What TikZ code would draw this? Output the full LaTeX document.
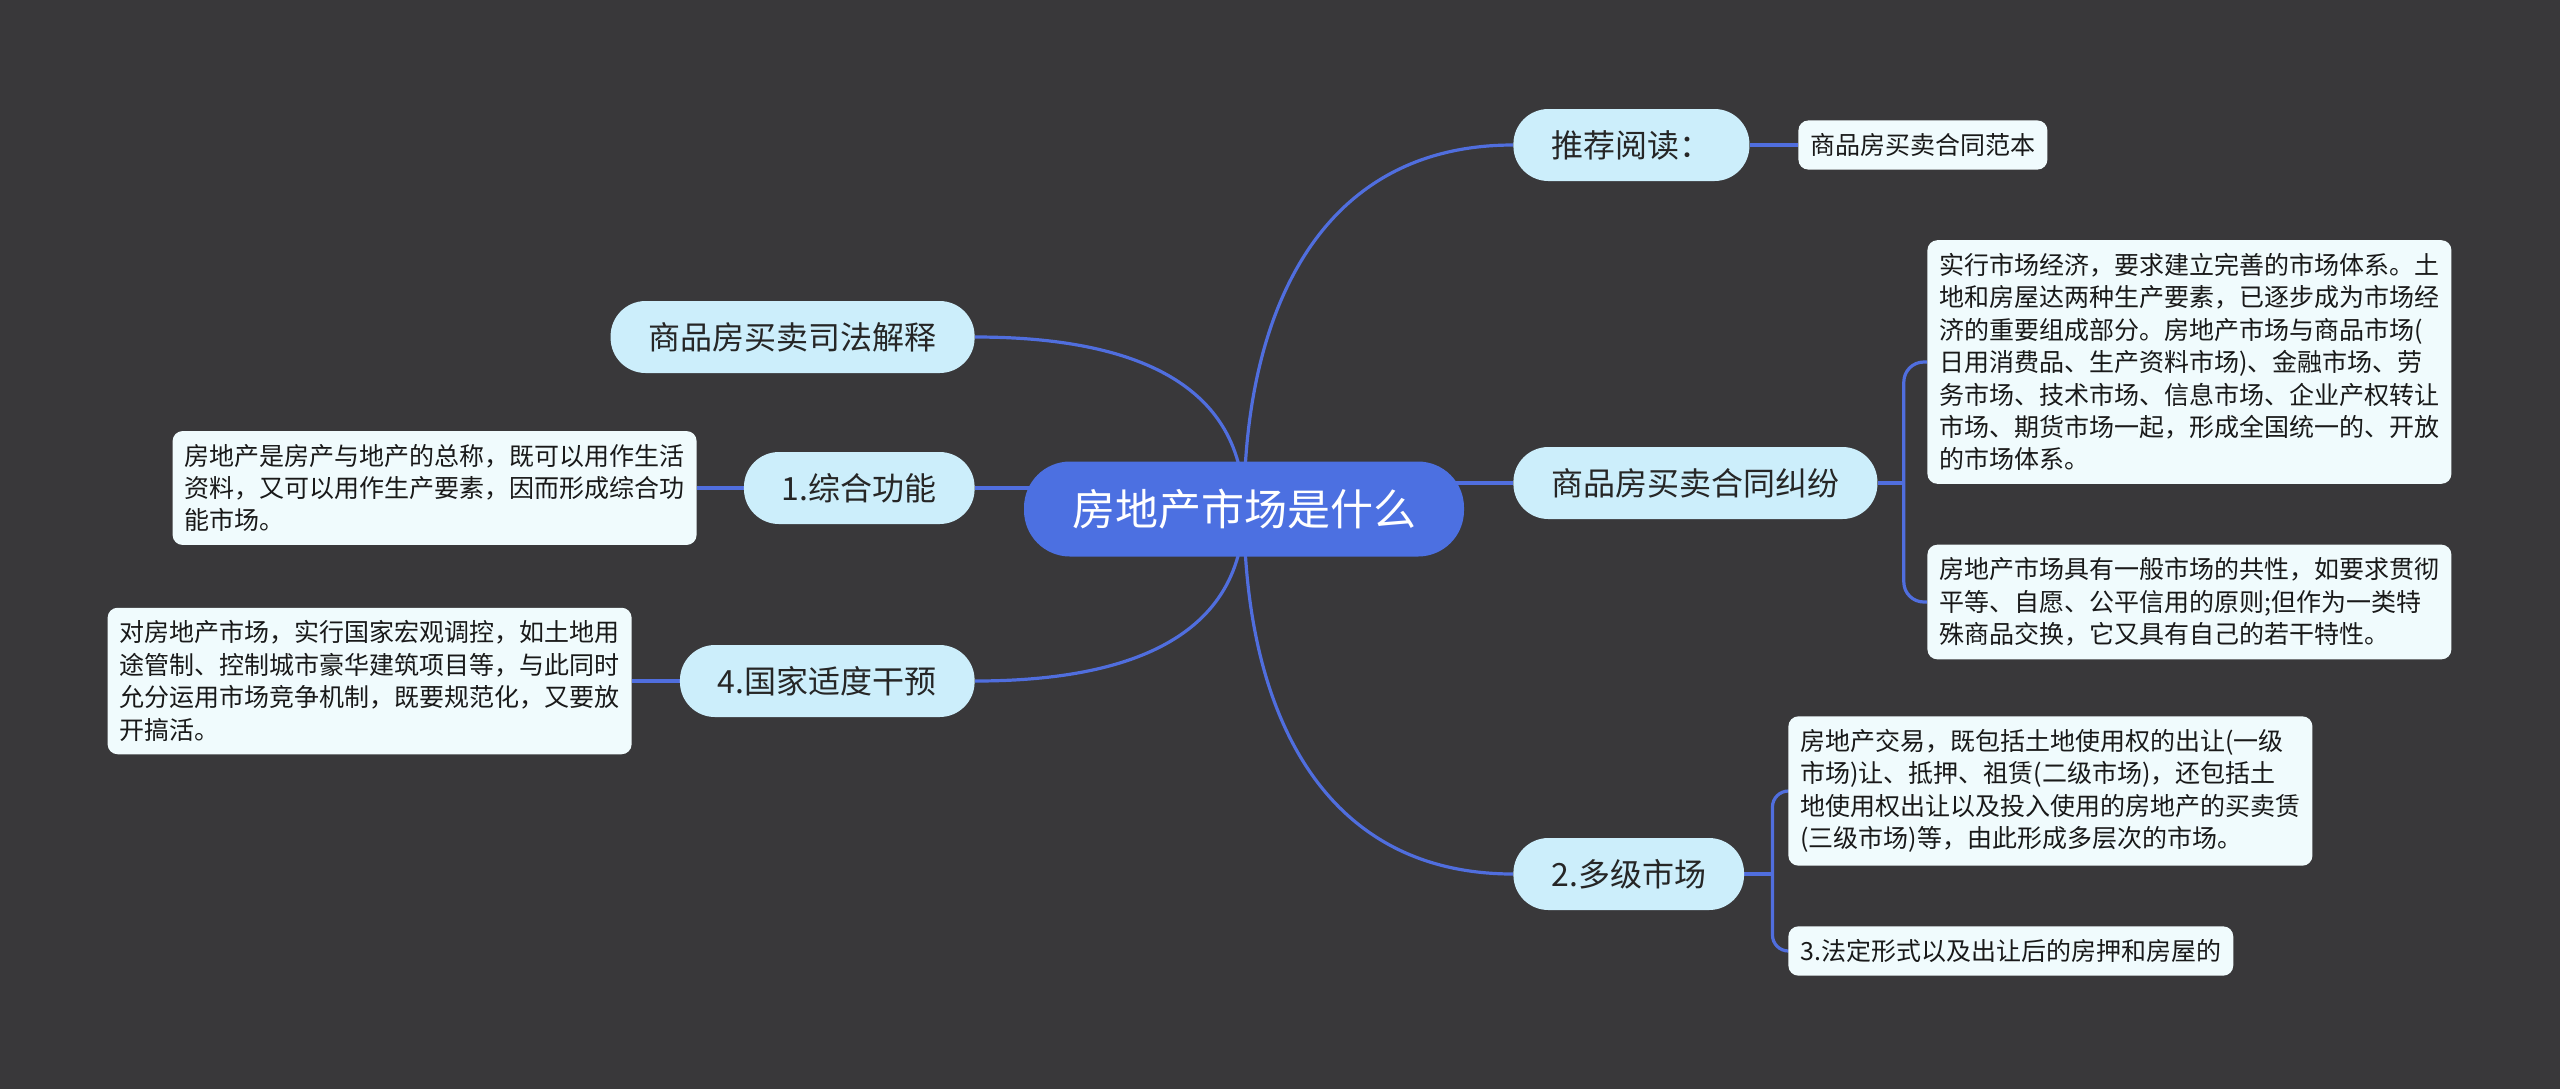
\documentclass[tikz,border=0pt]{standalone}
\usepackage{fontspec}
\setmainfont{Noto Sans CJK SC}
\usetikzlibrary{backgrounds}
\definecolor{bgcol}{RGB}{57,56,58}
\definecolor{rootblue}{RGB}{76,112,225}
\definecolor{linkblue}{RGB}{80,110,222}
\definecolor{topiccyan}{RGB}{204,238,251}
\definecolor{leafwhite}{RGB}{240,251,253}

\begin{document}
\begin{tikzpicture}[x=0.5pt,y=-0.5pt,
  root/.style={fill=rootblue,text=white,rounded corners=23pt,inner xsep=24pt,minimum height=47.5pt,font=\fontsize{21.5}{26}\selectfont},
  topic/.style={fill=topiccyan,text=black!85,rounded corners=17.5pt,inner xsep=19pt,minimum height=36pt,font=\fontsize{16}{19}\selectfont},
  leaf/.style={fill=leafwhite,text=black!90,rounded corners=5pt,inner xsep=6pt,inner ysep=6.5pt,align=left,font=\fontsize{12.5}{16.2}\selectfont},
  link/.style={draw=linkblue,line width=1.6pt}]
\useasboundingbox (0,0) rectangle (2560,1089);
\node[root] (root) at (1244,509) {房地产市场是什么};
\node[topic,anchor=west] (tjyd) at (1513,145) {推荐阅读：};
\node[leaf,anchor=west] (fbhe) at (1798,145) {商品房买卖合同范本};
\node[topic,anchor=west] (jf) at (1513,483) {商品房买卖合同纠纷};
\node[leaf,anchor=west] (jfa) at (1927,362) {实行市场经济，要求建立完善的市场体系。土\\地和房屋达两种生产要素，已逐步成为市场经\\济的重要组成部分。房地产市场与商品市场(\\日用消费品、生产资料市场)、金融市场、劳\\务市场、技术市场、信息市场、企业产权转让\\市场、期货市场一起，形成全国统一的、开放\\的市场体系。};
\node[leaf,anchor=west] (jfb) at (1927,602) {房地产市场具有一般市场的共性，如要求贯彻\\平等、自愿、公平信用的原则;但作为一类特\\殊商品交换，它又具有自己的若干特性。};
\node[topic,anchor=west] (djsc) at (1513,874) {2.多级市场};
\node[leaf,anchor=west] (dja) at (1788,791) {房地产交易，既包括土地使用权的出让(一级\\市场)让、抵押、祖赁(二级市场)，还包括土\\地使用权出让以及投入使用的房地产的买卖赁\\(三级市场)等，由此形成多层次的市场。};
\node[leaf,anchor=west] (djb) at (1788,951) {3.法定形式以及出让后的房押和房屋的};
\node[topic,anchor=east] (sfjs) at (975,337) {商品房买卖司法解释};
\node[topic,anchor=east] (zhgn) at (975,488) {1.综合功能};
\node[leaf,anchor=east] (zha) at (697,488) {房地产是房产与地产的总称，既可以用作生活\\资料，又可以用作生产要素，因而形成综合功\\能市场。};
\node[topic,anchor=east] (gjgy) at (975,681) {4.国家适度干预};
\node[leaf,anchor=east] (gja) at (632,681) {对房地产市场，实行国家宏观调控，如土地用\\途管制、控制城市豪华建筑项目等，与此同时\\允分运用市场竞争机制，既要规范化，又要放\\开搞活。};
\begin{scope}[on background layer]
\fill[bgcol] (0,0) rectangle (2560,1089);
\draw[link] (root.center) to[out=90,in=180,looseness=1.1] (tjyd.west);
\draw[link] (root.center |- jf.west) -- (jf.west);
\draw[link] (root.center) to[out=-90,in=180,looseness=1.1] (djsc.west);
\draw[link] (root.center) to[out=90,in=0,looseness=1.1] (sfjs.east);
\draw[link] (root.center |- zhgn.east) -- (zhgn.east);
\draw[link] (root.center) to[out=-90,in=0,looseness=1.1] (gjgy.east);
\draw[link] (tjyd.east) -- (fbhe.west);
\draw[link] (jf.east) -- ++(26,0) coordinate (jfk);
\draw[link,rounded corners=10pt] (jfk) |- (jfa.west);
\draw[link,rounded corners=10pt] (jfk) |- (jfb.west);
\draw[link] (djsc.east) -- ++(28,0) coordinate (djk);
\draw[link,rounded corners=8pt] (djk) |- (dja.west);
\draw[link,rounded corners=8pt] (djk) |- (djb.west);
\draw[link] (zhgn.west) -- (zha.east);
\draw[link] (gjgy.west) -- (gja.east);
\end{scope}
\end{tikzpicture}
\end{document}
